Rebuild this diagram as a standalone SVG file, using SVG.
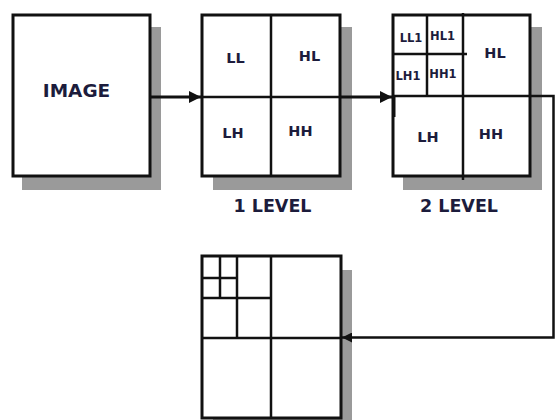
<svg xmlns="http://www.w3.org/2000/svg" width="555" height="420" viewBox="0 0 555 420">
<style>
.shadow{fill:#9a9a9a;stroke:none}
.box{fill:#fff;stroke:#111;stroke-width:3}
.ln{stroke:#111;stroke-width:2.5;fill:none}
.conn{stroke:#111;stroke-width:3;fill:none}
.t{font-family:"DejaVu Sans",Verdana,sans-serif;font-weight:bold;fill:#1c1c3c;text-anchor:middle}
.big{font-size:18.5px}
.mid{font-size:14.5px}
.sm{font-size:11.5px}
.lvl{font-size:17.5px}
</style>
<defs>
<marker id="ah" viewBox="0 0 10 10" refX="10" refY="5" markerWidth="4" markerHeight="4" orient="auto" markerUnits="strokeWidth">
<path d="M0,0 L10,5 L0,10 z" fill="#111"/>
</marker>
</defs>
<rect width="555" height="420" fill="#fff"/>

<g id="image">
<rect class="shadow" x="22" y="27" width="139" height="163"/>
<rect class="box" x="13" y="15" width="137" height="161"/>
<text class="t big" x="76.5" y="97">IMAGE</text>
</g>

<g id="level1">
<rect class="shadow" x="213" y="27" width="139" height="163"/>
<rect class="box" x="202" y="15" width="138" height="161"/>
<line class="ln" x1="271" y1="15" x2="271" y2="176"/>
<line class="ln" x1="202" y1="97" x2="340" y2="97"/>
<text class="t mid" x="235.5" y="63">LL</text>
<text class="t mid" x="309.5" y="61">HL</text>
<text class="t mid" x="233" y="138">LH</text>
<text class="t mid" x="300.5" y="136">HH</text>
<text class="t lvl" x="272.5" y="212">1 LEVEL</text>
</g>

<g id="level2">
<rect class="shadow" x="403" y="27" width="139" height="163"/>
<rect class="box" x="393" y="15" width="137" height="161"/>
<line class="ln" x1="463" y1="13" x2="463" y2="180"/>
<line class="ln" x1="393" y1="96" x2="530" y2="96"/>
<line class="ln" x1="427" y1="15" x2="427" y2="97"/>
<line class="ln" x1="393" y1="54" x2="467" y2="54"/>
<line class="ln" x1="394" y1="96" x2="394" y2="117" style="stroke-width:3"/>
<text class="t sm" x="411" y="42">LL1</text>
<text class="t sm" x="442.5" y="40">HL1</text>
<text class="t sm" x="408" y="80">LH1</text>
<text class="t sm" x="443" y="78">HH1</text>
<text class="t mid" x="495" y="58">HL</text>
<text class="t mid" x="428" y="142">LH</text>
<text class="t mid" x="491" y="139">HH</text>
<text class="t lvl" x="459" y="212">2 LEVEL</text>
</g>

<g id="level3">
<rect class="shadow" x="213" y="270" width="139" height="160"/>
<rect class="box" x="202" y="256" width="139" height="162"/>
<line class="ln" x1="271" y1="256" x2="271" y2="418"/>
<line class="ln" x1="202" y1="338" x2="341" y2="338"/>
<line class="ln" x1="237" y1="256" x2="237" y2="338"/>
<line class="ln" x1="202" y1="298" x2="271" y2="298"/>
<line class="ln" x1="220" y1="256" x2="220" y2="298"/>
<line class="ln" x1="202" y1="278" x2="237" y2="278"/>
</g>

<g id="connectors">
<line class="conn" x1="150" y1="97" x2="201" y2="97" marker-end="url(#ah)"/>
<line class="conn" x1="340" y1="97" x2="392" y2="97" marker-end="url(#ah)"/>
<polyline class="conn" points="530,96 553.5,96 553.5,337.5 342,337.5" marker-end="url(#ah)" style="stroke-width:2.5"/>
</g>
</svg>
